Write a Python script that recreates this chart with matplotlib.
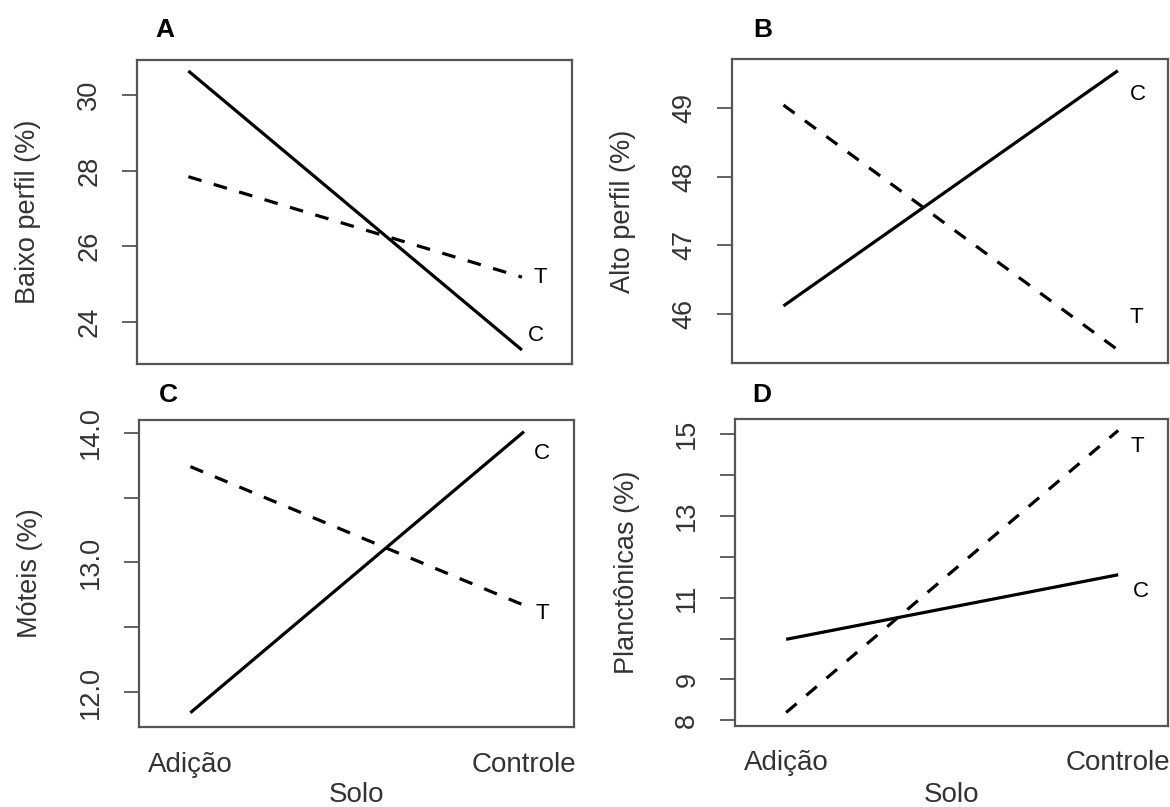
import matplotlib
matplotlib.use("Agg")
import matplotlib.pyplot as plt

plt.rcParams['font.family'] = ['Liberation Sans', 'DejaVu Sans']

# niveis do fator Solo
solo = ["Adição", "Controle"]

# medias de cada tratamento (C = linha cheia, T = tracejada)
baixo_C = [30.64, 23.25]
baixo_T = [27.84, 25.18]
alto_C = [46.12, 49.54]
alto_T = [49.04, 45.48]
moteis_C = [11.84, 14.01]
moteis_T = [13.74, 12.67]
planct_C = [9.98, 11.56]
planct_T = [8.19, 15.09]

ylabels = ["Baixo perfil (%)", "Alto perfil (%)", "Móteis (%)", "Planctônicas (%)"]
letters = ["A", "B", "C", "D"]

yticks_A = [24, 26, 28, 30]
yticks_B = [46, 47, 48, 49]
yticks_C = [12.0, 12.5, 13.0, 13.5, 14.0]
ytlab_C = ["12.0", "", "13.0", "", "14.0"]
yticks_D = [8, 9, 10, 11, 12, 13, 14, 15]
ytlab_D = ["8", "9", "", "11", "", "13", "", "15"]

W, H = 1170, 807
fig = plt.figure(figsize=(W / 100, H / 100), dpi=100)

# caixas em pixels (x0, y0_topo, x1, y1_base)
boxes = [(137, 60, 572, 364), (732, 59, 1168, 363),
         (139, 420, 574, 727), (735, 419, 1168, 726)]
ylims = [(22.88, 30.93), (45.29, 49.71), (11.73, 14.10), (7.86, 15.37)]
series = [(baixo_C, baixo_T), (alto_C, alto_T), (moteis_C, moteis_T), (planct_C, planct_T)]
ticks = [(yticks_A, None), (yticks_B, None), (yticks_C, ytlab_C), (yticks_D, ytlab_D)]
# deslocamento (px) dos rotulos C e T em relacao ao fim da linha
off_C = [(6, 15), (12, -24), (10, -22), (15, -17)]
off_T = [(12, 0), (12, 32), (12, -8), (12, -16)]

grey = "#555555"
txt = "#333333"
fs = 19.5

for i in range(4):
    x0, y0, x1, y1 = boxes[i]
    ax = fig.add_axes([x0 / W, 1 - y1 / H, (x1 - x0) / W, (y1 - y0) / H])
    c_vals, t_vals = series[i]
    xs = [1, 2]
    ax.plot(xs, c_vals, color="black", lw=2.3, solid_capstyle="butt")
    ax.plot(xs, t_vals, color="black", lw=2.3, dashes=(4.3, 4.0))
    ax.set_xlim(0.846, 2.15)
    ax.set_ylim(*ylims[i])

    tk, tl = ticks[i]
    ax.set_yticks(tk)
    if tl is not None:
        ax.set_yticklabels(tl)
    ax.tick_params(axis="y", length=11, width=1.3, color=grey, labelsize=fs,
                   labelcolor=txt, pad=14)
    for lab in ax.get_yticklabels():
        lab.set_rotation(90)
        lab.set_va("center")

    if i >= 2:
        ax.set_xticks(xs)
        ax.set_xticklabels(solo)
        ax.tick_params(axis="x", length=0, labelsize=fs + 0.5, labelcolor=txt, pad=27)
        ax.set_xlabel("Solo", fontsize=fs + 0.5, color=txt)
        ax.xaxis.set_label_coords(0.5, -(795 - y1) / (y1 - y0))
        for lab in ax.get_xticklabels():
            lab.set_va("center")
        ax.xaxis.label.set_va("center")
    else:
        ax.set_xticks([])

    ax.set_ylabel(ylabels[i], fontsize=fs, color=txt)
    ax.yaxis.set_label_coords(-0.22, 0.5)

    for sp in ax.spines.values():
        sp.set_color(grey)
        sp.set_linewidth(1.6)

    ax.annotate("C", (2, c_vals[1]), xytext=(off_C[i][0] * 0.72, off_C[i][1] * 0.72),
                textcoords="offset points", ha="left", va="center", fontsize=16, color="black")
    ax.annotate("T", (2, t_vals[1]), xytext=(off_T[i][0] * 0.72, off_T[i][1] * 0.72),
                textcoords="offset points", ha="left", va="center", fontsize=16, color="black")

    lx = [165, 763, 168, 762][i]
    ly = [30, 30, 395, 395][i]
    fig.text(lx / W, 1 - ly / H, letters[i], fontsize=19, fontweight="bold",
             ha="center", va="center")

fig.savefig("out.png", dpi=100)
